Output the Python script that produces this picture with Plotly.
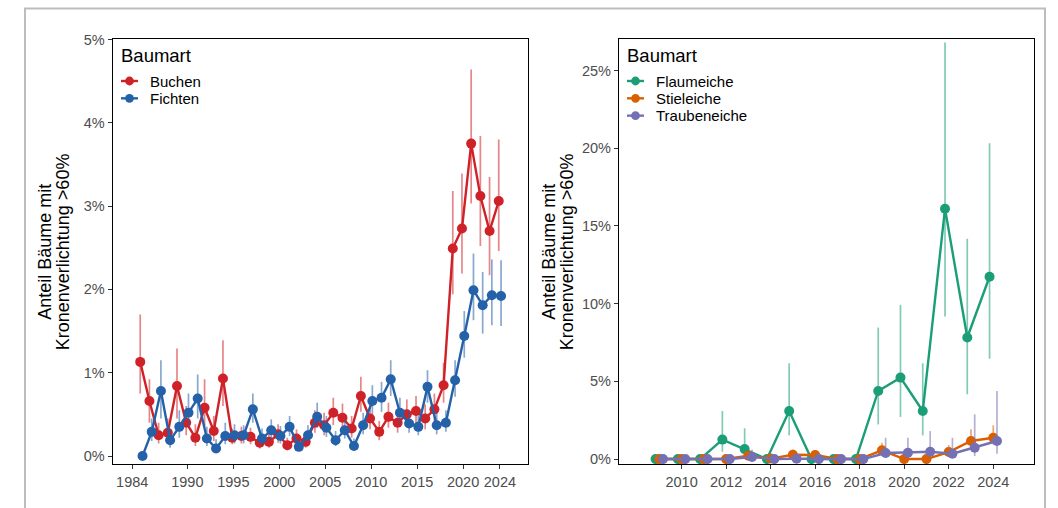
import plotly.graph_objects as go

# ---------------- data (values in percent) ----------------
years_left = list(range(1985, 2025))
buchen = [1.13, 0.66, 0.25, 0.28, 0.84, 0.40, 0.22, 0.58, 0.30, 0.93,
          0.22, 0.24, 0.23, 0.16, 0.17, 0.26, 0.13, 0.21, 0.17, 0.40,
          0.37, 0.52, 0.46, 0.33, 0.72, 0.45, 0.29, 0.47, 0.40, 0.50,
          0.54, 0.45, 0.56, 0.85, 2.49, 2.73, 3.75, 3.12, 2.70, 3.06]
buchen_lo = [0.75, 0.40, 0.15, 0.15, 0.45, 0.25, 0.12, 0.35, 0.18, 0.60,
             0.14, 0.15, 0.14, 0.09, 0.10, 0.16, 0.07, 0.13, 0.10, 0.28,
             0.25, 0.37, 0.32, 0.22, 0.53, 0.32, 0.19, 0.34, 0.28, 0.36,
             0.39, 0.32, 0.41, 0.64, 1.94, 2.19, 3.03, 2.52, 2.17, 2.46]
buchen_hi = [1.70, 0.92, 0.40, 0.45, 1.29, 0.60, 0.38, 0.92, 0.48, 1.39,
             0.33, 0.35, 0.34, 0.26, 0.27, 0.38, 0.22, 0.32, 0.27, 0.55,
             0.52, 0.70, 0.63, 0.48, 0.95, 0.62, 0.42, 0.64, 0.55, 0.68,
             0.72, 0.62, 0.75, 1.12, 3.18, 3.39, 4.64, 3.84, 3.35, 3.80]
fichten = [0.00, 0.29, 0.78, 0.19, 0.35, 0.52, 0.69, 0.21, 0.09, 0.24,
           0.25, 0.25, 0.56, 0.21, 0.31, 0.24, 0.35, 0.11, 0.25, 0.47,
           0.34, 0.19, 0.31, 0.12, 0.37, 0.66, 0.70, 0.92, 0.52, 0.39,
           0.35, 0.83, 0.37, 0.40, 0.91, 1.44, 1.99, 1.81, 1.93, 1.92]
fichten_lo = [0.00, 0.18, 0.45, 0.10, 0.22, 0.35, 0.45, 0.12, 0.04, 0.14,
              0.15, 0.15, 0.40, 0.13, 0.20, 0.15, 0.24, 0.06, 0.16, 0.34,
              0.23, 0.12, 0.21, 0.07, 0.26, 0.50, 0.53, 0.72, 0.38, 0.28,
              0.25, 0.64, 0.26, 0.29, 0.71, 1.18, 1.63, 1.47, 1.57, 1.56]
fichten_hi = [0.00, 0.45, 1.15, 0.32, 0.55, 0.75, 0.98, 0.35, 0.20, 0.40,
              0.38, 0.37, 0.75, 0.33, 0.44, 0.36, 0.48, 0.20, 0.37, 0.64,
              0.48, 0.30, 0.44, 0.21, 0.52, 0.85, 0.89, 1.15, 0.70, 0.54,
              0.49, 1.03, 0.52, 0.55, 1.15, 1.74, 2.43, 2.21, 2.36, 2.35]

years_right = list(range(2009, 2025))
flaum = [0, 0, 0, 1.25, 0.64, 0, 3.09, 0, 0, 0, 4.38, 5.24, 3.09, 16.11, 7.82, 11.73]
flaum_lo = [0, 0, 0, 0.47, 0.09, 0, 1.52, 0, 0, 0, 2.23, 2.71, 1.52, 9.17, 4.17, 6.46]
flaum_hi = [0, 0, 0, 3.09, 1.98, 0, 6.16, 0, 0, 0, 8.46, 9.92, 6.16, 26.8, 14.18, 20.32]
stiel = [0, 0, 0, 0, 0.22, 0.03, 0.28, 0.26, 0, 0, 0.56, 0, 0, 0.45, 1.16, 1.37]
stiel_lo = [0, 0, 0, 0, 0.05, 0, 0.08, 0.07, 0, 0, 0.22, 0, 0, 0.18, 0.84, 0.95]
stiel_hi = [0, 0, 0, 0, 0.55, 0.20, 0.62, 0.58, 0, 0, 1.05, 0, 0, 0.90, 1.91, 2.17]
traub = [0, 0, 0, 0, 0.13, 0, 0.02, 0, 0, 0, 0.39, 0.41, 0.47, 0.34, 0.73, 1.16]
traub_lo = [0, 0, 0, 0, 0.02, 0, 0, 0, 0, 0, 0.09, 0.10, 0.12, 0.08, 0.19, 0.34]
traub_hi = [0, 0, 0, 0, 0.62, 0, 0.15, 0, 0, 0, 1.37, 1.37, 1.80, 1.37, 2.88, 4.38]

left_xticks = [1984, 1990, 1995, 2000, 2005, 2010, 2015, 2020, 2024]
right_xticks = list(range(2010, 2025, 2))
left_yticks = [0, 1, 2, 3, 4, 5]
right_yticks = [0, 5, 10, 15, 20, 25]
y_title_lines = ["Anteil Bäume mit", "Kronenverlichtung >60%"]
legend_title = "Baumart"
left_names = ["Buchen", "Fichten"]
right_names = ["Flaumeiche", "Stieleiche", "Traubeneiche"]
left_colors = ["#CF2228", "#2461A8"]
right_colors = ["#1B9E77", "#D95F02", "#7570B3"]

# ---------------- figure ----------------
W, H = 1058, 508
FONT = "Liberation Sans, Arial, sans-serif"
fig = go.Figure()


def rgba(hexc, a):
    h = hexc.lstrip("#")
    r, g, b = int(h[0:2], 16), int(h[2:4], 16), int(h[4:6], 16)
    return f"rgba({r},{g},{b},{a})"


def add_series(name, years, vals, lo, hi, color, offset, xa, ya):
    xs = [y + offset for y in years]
    fig.add_trace(go.Scatter(
        x=xs, y=vals, name=name, mode="lines+markers", showlegend=False,
        line=dict(color=color, width=2.4),
        marker=dict(color=color, size=10),
        error_y=dict(type="data", symmetric=False,
                     array=[h - v for h, v in zip(hi, vals)],
                     arrayminus=[v - l for v, l in zip(vals, lo)],
                     color=rgba(color, 0.55), thickness=1.7, width=0),
        xaxis=xa, yaxis=ya))


d = 0.125
add_series(left_names[0], years_left, buchen, buchen_lo, buchen_hi, left_colors[0], -d, "x", "y")
add_series(left_names[1], years_left, fichten, fichten_lo, fichten_hi, left_colors[1], d, "x", "y")
d3 = 1 / 6
add_series(right_names[0], years_right, flaum, flaum_lo, flaum_hi, right_colors[0], -d3, "x2", "y2")
add_series(right_names[1], years_right, stiel, stiel_lo, stiel_hi, right_colors[1], 0, "x2", "y2")
add_series(right_names[2], years_right, traub, traub_lo, traub_hi, right_colors[2], d3, "x2", "y2")


def px_x(p):
    return p / W


# vertical calibration of the rendered page (target pixel -> figure pixel)
VA, VB = 7.6, 0.977


def px_y(p):
    q = (p - VA) / VB
    return 1 - q / H


axis_common = dict(showline=True, mirror=True, linecolor="black", linewidth=1.3,
                   ticks="outside", ticklen=4, tickwidth=1, tickcolor="#333333",
                   showgrid=False, zeroline=False,
                   tickfont=dict(family=FONT, size=14.5, color="#4D4D4D"))

fig.update_layout(
    width=W, height=H, margin=dict(l=0, r=0, t=0, b=0),
    paper_bgcolor="white", plot_bgcolor="white",
    font=dict(family=FONT), showlegend=False,
    xaxis=dict(domain=[px_x(112.7), px_x(528.3)], range=[1981.88, 2027.09],
               tickvals=left_xticks, ticktext=[str(t) for t in left_xticks],
               anchor="y", **axis_common),
    yaxis=dict(domain=[px_y(463), px_y(39)], range=[-0.096, 5.0],
               tickvals=left_yticks, ticktext=[f"{t}%" for t in left_yticks],
               anchor="x", **axis_common),
    xaxis2=dict(domain=[px_x(619), px_x(1034)], range=[2007.19, 2025.83],
                tickvals=right_xticks, ticktext=[str(t) for t in right_xticks],
                anchor="y2", **axis_common),
    yaxis2=dict(domain=[px_y(463), px_y(39)], range=[-0.32, 27.0],
                tickvals=right_yticks, ticktext=[f"{t}%" for t in right_yticks],
                anchor="x2", **axis_common),
)

# y-axis titles (two lines, tight spacing)
for xc in (45, 549):
    for i, line in enumerate(y_title_lines):
        fig.add_annotation(x=px_x(xc + 17.5 * i), y=px_y(251), xref="paper", yref="paper",
                           text=line, textangle=-90, showarrow=False,
                           font=dict(family=FONT, size=18, color="black"),
                           xanchor="center", yanchor="middle")


# legends drawn in paper space
def draw_legend(x_left, names, colors):
    fig.add_annotation(x=px_x(x_left - 2), y=px_y(55), xref="paper", yref="paper",
                       text=legend_title, showarrow=False, xanchor="left", yanchor="middle",
                       font=dict(family=FONT, size=18.5, color="black"))
    for i, (nm, col) in enumerate(zip(names, colors)):
        yc = 80.5 + 17.3 * i
        fig.add_shape(type="line", xref="paper", yref="paper",
                      x0=px_x(x_left), x1=px_x(x_left + 17), y0=px_y(yc), y1=px_y(yc),
                      line=dict(color=col, width=2.4))
        r = 4.4
        cx = x_left + 8.5
        fig.add_shape(type="circle", xref="paper", yref="paper",
                      x0=px_x(cx - r), x1=px_x(cx + r), y0=px_y(yc + r), y1=px_y(yc - r),
                      line=dict(color=col, width=0), fillcolor=col)
        fig.add_annotation(x=px_x(x_left + 27), y=px_y(yc), xref="paper", yref="paper",
                           text=nm, showarrow=False, xanchor="left", yanchor="middle",
                           font=dict(family=FONT, size=15, color="black"))


draw_legend(121, left_names, left_colors)
draw_legend(627, right_names, right_colors)

fig.add_shape(type="rect", xref="paper", yref="paper",
              x0=px_x(25), x1=px_x(1045), y0=-0.1, y1=min(px_y(5), 0.999),
              line=dict(color="#BDBDBD", width=2), layer="below")

fig.write_html("out.html", config={"displayModeBar": False},
               post_script="document.body.style.margin='0';document.body.style.overflow='hidden';")
